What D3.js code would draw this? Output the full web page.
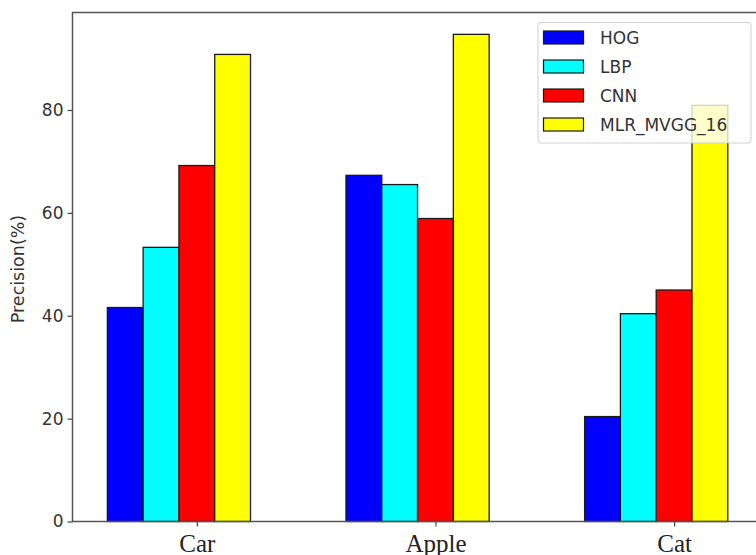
<!DOCTYPE html>
<html>
<head>
<meta charset="utf-8">
<script src="https://cdn.jsdelivr.net/npm/d3@7"></script>
<style>
  html, body { margin: 0; padding: 0; background: #fff; }
  svg { display: block; }
</style>
</head>
<body>
<svg id="chart" width="756" height="555"></svg>
<script>
const categories = ["Car", "Apple", "Cat"];
const seriesNames = ["HOG", "LBP", "CNN", "MLR_MVGG_16"];
const hogValues = [41.6, 67.3, 20.4];
const lbpValues = [53.3, 65.5, 40.4];
const cnnValues = [69.2, 58.9, 45.0];
const mlrValues = [90.8, 94.7, 80.9];
const yTickValues = [0, 20, 40, 60, 80];
const seriesColors = ["#0000ff", "#00ffff", "#ff0000", "#ffff00"];
const yLabel = "Precision(%)";

const seriesValues = [hogValues, lbpValues, cnnValues, mlrValues];

(function () {
const svg = d3.select("#chart");
const mLeft = 72.5, mRight = 760, mTop = 12.5, mBottom = 521.5;
const barW = 0.15;

const x = d3.scaleLinear().domain([-0.521, 2.36]).range([mLeft, mRight]);
const y = d3.scaleLinear().domain([0, 98.95]).range([mBottom, mTop]);

// bars
const bars = [];
seriesValues.forEach((vals, si) => {
  vals.forEach((v, ci) => bars.push({si, ci, v}));
});
svg.append("g").selectAll("rect").data(bars).join("rect")
  .attr("x", d => x(d.ci + (d.si - 2) * barW - barW / 2))
  .attr("width", d => x(barW) - x(0))
  .attr("y", d => y(d.v))
  .attr("height", d => y(0) - y(d.v))
  .attr("fill", d => seriesColors[d.si])
  .attr("stroke", "#1a1a1a")
  .attr("stroke-width", 1.3);

// axes
const yAxis = d3.axisLeft(y).tickValues(yTickValues).tickSize(5).tickPadding(4);
const gy = svg.append("g").attr("transform", `translate(${mLeft},0)`).call(yAxis);
gy.select(".domain").remove();
gy.selectAll(".tick line").attr("stroke", "#444").attr("stroke-width", 1.2);
gy.selectAll(".tick text").attr("font-family", "DejaVu Sans, sans-serif")
  .attr("font-size", 17).attr("fill", "#333");

const xAxis = d3.axisBottom(x).tickValues(categories.map((c, i) => i))
  .tickFormat(i => categories[i]).tickSize(5).tickPadding(8);
const gx = svg.append("g").attr("transform", `translate(0,${mBottom})`).call(xAxis);
gx.select(".domain").remove();
gx.selectAll(".tick line").attr("stroke", "#444").attr("stroke-width", 1.2);
gx.selectAll(".tick text").attr("font-family", "Liberation Serif, Times New Roman, serif")
  .attr("font-size", 25).attr("fill", "#222").attr("dy", null).attr("y", 30);

// spines
const spines = svg.append("g").attr("fill", "none").attr("stroke", "#555").attr("stroke-width", 1.5);
spines.append("path").attr("d", `M${mLeft},${mTop}H${mRight}V${mBottom}H${mLeft}Z`);

// y label
svg.append("text")
  .attr("transform", `translate(24,269) rotate(-90)`)
  .attr("text-anchor", "middle")
  .attr("font-family", "DejaVu Sans, sans-serif")
  .attr("font-size", 17.5)
  .attr("fill", "#333")
  .text(yLabel);

// legend
const lg = svg.append("g");
lg.append("rect").attr("x", 538).attr("y", 22.5).attr("width", 213).attr("height", 120.5)
  .attr("rx", 3).attr("fill", "#fff").attr("fill-opacity", 0.8)
  .attr("stroke", "#d0d0d0").attr("stroke-width", 1);
seriesNames.forEach((name, i) => {
  const cy = 37.5 + i * 29;
  lg.append("rect").attr("x", 543.5).attr("y", cy - 6.5).attr("width", 40).attr("height", 13)
    .attr("fill", seriesColors[i]).attr("stroke", "#1a1a1a").attr("stroke-width", 1.2);
  lg.append("text").attr("x", 600).attr("y", cy + 6.5)
    .attr("font-family", "DejaVu Sans, sans-serif").attr("font-size", 17)
    .attr("fill", "#333").text(name);
});
})();
</script>
</body>
</html>
